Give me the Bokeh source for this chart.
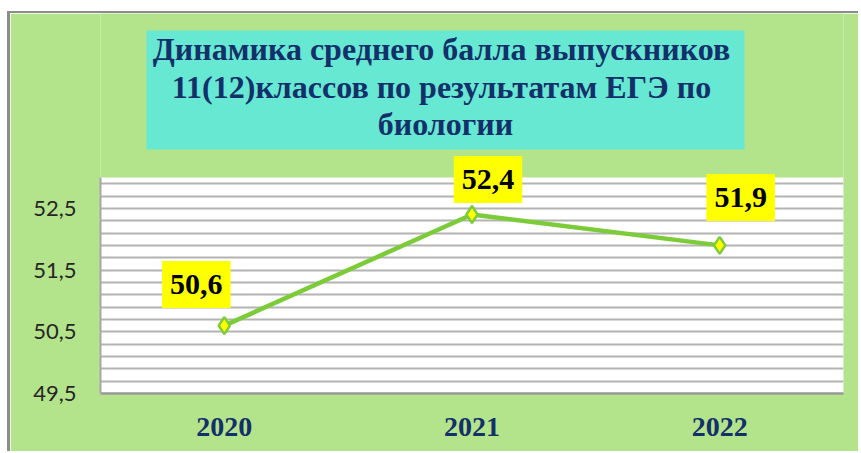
from bokeh.plotting import figure
from bokeh.models import Label, BoxAnnotation, FixedTicker, Range1d
from bokeh.embed import file_html
from bokeh.resources import INLINE

# ---- data ----
years = ["2020", "2021", "2022"]
scores = [50.6, 52.4, 51.9]
score_labels = ["50,6", "52,4", "51,9"]
y_ticks = [49.5, 50.5, 51.5, 52.5]
y_tick_labels = ["49,5", "50,5", "51,5", "52,5"]
title_lines = ["Динамика  среднего балла выпускников",
               "11(12)классов по результатам  ЕГЭ по",
               "биологии"]

# ---- styles / positions ----
GREEN_BG = "#b3e38b"
LINE_GREEN = "#7ccc3a"
NAVY = "#13306a"
Y_LO, Y_HI = 49.5, 53.0          # visible plot-area value range
label_dx = [-28, 16, 21]
label_dy = [41, 35, 48]
grid_ticks = [round(49.7 + 0.2 * k, 1) for k in range(17)]

W, H = 851, 440
FRAME_TOP_PX, FRAME_BOTTOM_PX = 0, 380   # figure px
PLOT_TOP_PX = 164                         # where value Y_HI sits
px_per_unit = (FRAME_BOTTOM_PX - PLOT_TOP_PX) / (Y_HI - Y_LO)
y_end = Y_LO + (FRAME_BOTTOM_PX - FRAME_TOP_PX) / px_per_unit

p = figure(width=W, height=H, x_range=years, y_range=Range1d(Y_LO, y_end),
           output_backend="svg", toolbar_location=None,
           min_border_left=90, min_border_right=18,
           min_border_top=0, min_border_bottom=H - FRAME_BOTTOM_PX)
p.styles = {"margin-left": "7px", "margin-top": "11px",
            "border-left": "3px solid #8c8c8c", "border-top": "2px solid #8c8c8c"}
p.background_fill_color = GREEN_BG
p.border_fill_color = GREEN_BG
p.outline_line_color = None

# white plot area (below grid lines)
p.add_layout(BoxAnnotation(top=Y_HI, fill_color="white", fill_alpha=1,
                           line_color=None, level="image"))

p.xgrid.visible = False
p.ygrid.ticker = FixedTicker(ticks=grid_ticks)
p.ygrid.grid_line_color = "#b3b3b3"
p.ygrid.grid_line_width = 2

p.yaxis.ticker = FixedTicker(ticks=y_ticks)
p.yaxis.bounds = (Y_LO, Y_HI)
p.yaxis.major_label_overrides = dict(zip(y_ticks, y_tick_labels))
p.yaxis.axis_line_color = "#a6a6a6"
p.yaxis.axis_line_width = 2
p.yaxis.major_tick_line_color = None
p.yaxis.minor_tick_line_color = None
p.yaxis.major_tick_out = 0
p.yaxis.major_tick_in = 0
p.yaxis.major_label_standoff = 24
p.yaxis.major_label_text_font = "Lato"
p.yaxis.major_label_text_font_size = "22px"
p.yaxis.major_label_text_color = "#262626"

p.xaxis.axis_line_color = "#999999"
p.xaxis.axis_line_width = 2.5
p.xaxis.major_tick_line_color = None
p.xaxis.minor_tick_line_color = None
p.xaxis.major_tick_out = 0
p.xaxis.major_tick_in = 0
p.xaxis.major_label_standoff = 24
p.xaxis.major_label_text_font = "Liberation Serif"
p.xaxis.major_label_text_font_style = "bold"
p.xaxis.major_label_text_font_size = "28px"
p.xaxis.major_label_text_color = NAVY

p.line(years, scores, line_color=LINE_GREEN, line_width=4.5)
p.scatter(years, scores, marker="diamond", size=17, fill_color="#ffff00",
          line_color=LINE_GREEN, line_width=2.5)

# title box and title text (canvas units)
p.add_layout(BoxAnnotation(left=133, right=731, top=15, bottom=134,
                           left_units="canvas", right_units="canvas",
                           top_units="canvas", bottom_units="canvas",
                           fill_color="#66e8d3", fill_alpha=1, line_color=None))
title_baselines = [33, 71, 108]
for line, yb in zip(title_lines, title_baselines):
    p.add_layout(Label(x=432, y=yb, x_units="canvas", y_units="canvas",
                       text=line, text_align="center", text_baseline="alphabetic",
                       text_font="Liberation Serif", text_font_style="bold",
                       text_font_size="32px", text_color=NAVY))

# data labels; categorical factor i sits at synthetic coordinate i + 0.5
for i in range(len(years)):
    p.add_layout(Label(x=years.index(years[i]) + 0.5, y=scores[i], text=score_labels[i],
                       x_offset=label_dx[i], y_offset=label_dy[i],
                       text_align="center", text_baseline="middle",
                       text_font="Liberation Serif", text_font_style="bold",
                       text_font_size="30px", text_color="black",
                       background_fill_color="#ffff00", padding=(8, 14)))

open("out.html", "w").write(file_html(p, INLINE))
